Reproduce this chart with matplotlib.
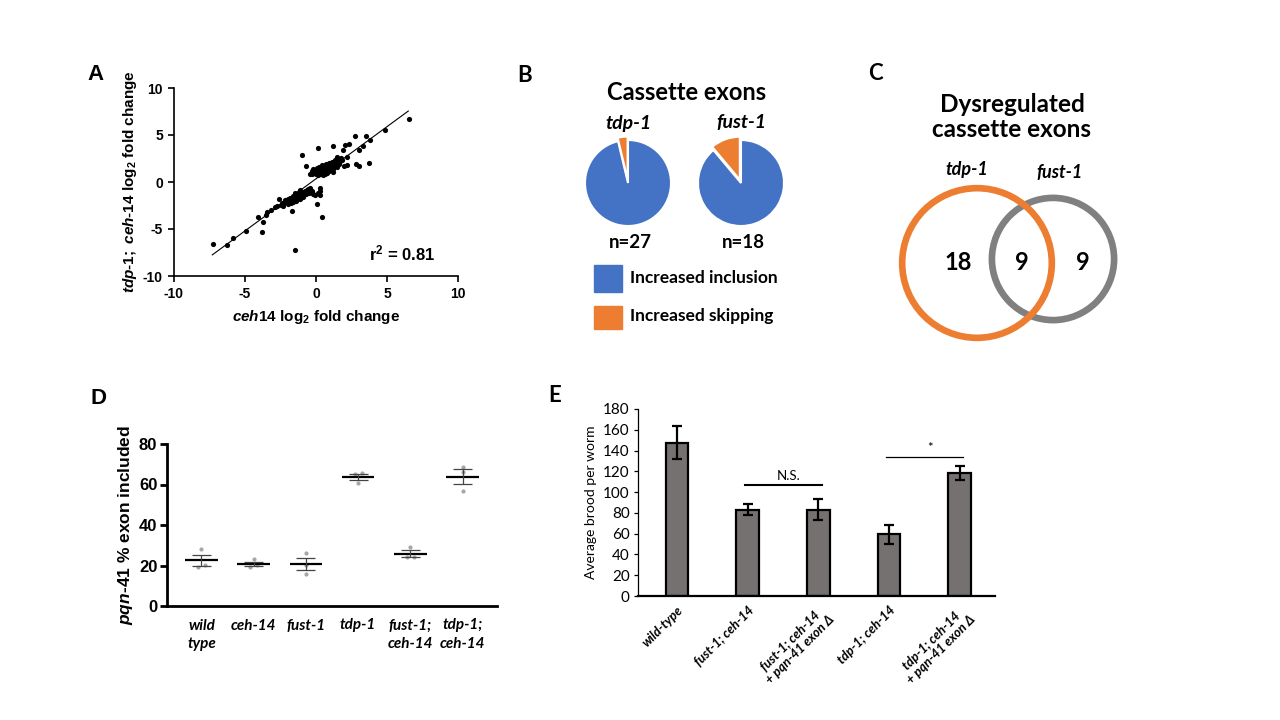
import numpy as np
import matplotlib
matplotlib.use("Agg")
import matplotlib.pyplot as plt
from matplotlib.patches import Circle, Rectangle

plt.rcParams['font.family'] = ['Liberation Sans', 'DejaVu Sans']
plt.rcParams['font.weight'] = 'bold'
plt.rcParams['axes.labelweight'] = 'bold'
plt.rcParams['axes.unicode_minus'] = False
plt.rcParams['mathtext.fontset'] = 'custom'
plt.rcParams['mathtext.rm'] = 'Liberation Sans:bold'
plt.rcParams['mathtext.it'] = 'Liberation Sans:italic:bold'
plt.rcParams['mathtext.bf'] = 'Liberation Sans:bold'

CAL = ['Lato', 'DejaVu Sans']
BLUE = '#4472C4'
ORANGE = '#ED7D31'

# ---- panel A: log2 fold change, ceh14 vs tdp-1; ceh-14
scatter_x = [
    -7.27, -6.28, -5.81, -4.92, -4.05, -3.71, -3.83, -3.52, -3.43, -3.19,
    -2.9, -2.77, -2.6, -2.5, -2.4, -2.3, -2.3, -2.2, -2.1, -2.0,
    -1.95, -1.9, -1.8, -1.75, -1.7, -1.71, -1.6, -1.6, -1.5, -1.5,
    -1.48, -1.48, -1.45, -1.4, -1.3, -1.25, -1.2, -1.15, -1.13, -1.1,
    -1.0, -1.0, -0.9, -0.85, -0.78, -0.7, -0.6, -0.54, -0.5, -0.42,
    -0.3, -0.2, -0.1, 0.05, 0.16, 0.28, 0.3, 0.3, 0.4,
    -0.96, -0.73, -0.4, -0.3, -0.25, -0.2, -0.15, -0.1, 0.0, 0.0,
    0.05, 0.1, 0.1, 0.15, 0.15, 0.2, 0.2, 0.25, 0.3, 0.3,
    0.35, 0.4, 0.4, 0.45, 0.5, 0.5, 0.5, 0.55, 0.6, 0.6,
    0.65, 0.7, 0.7, 0.75, 0.8, 0.8, 0.85, 0.9, 0.9, 0.95,
    1.0, 1.0, 1.05, 1.1, 1.1, 1.15, 1.2, 1.2, 1.25, 1.3,
    1.35, 1.4, 1.45, 1.5, 1.55, 1.6, 1.7, 1.75, 1.85,
    0.16, 1.22, 1.34, 1.46, 1.93, 1.98, 2.05, 2.16, 2.16, 2.35,
    2.75, 2.8, 3.0, 3.04, 3.3, 3.5, 3.7, 3.8, 4.87, 6.52,
]
scatter_y = [
    -6.63, -6.7, -5.99, -5.17, -3.68, -4.28, -5.35, -3.5, -3.15, -2.98,
    -2.7, -2.55, -1.85, -2.4, -2.2, -2.35, -2.6, -1.9, -2.1, -1.8,
    -2.3, -2.0, -1.7, -2.2, -1.9, -3.09, -1.5, -2.1, -1.2, -1.8,
    -1.74, -7.2, -1.6, -2.0, -1.4, -1.6, -1.1, -1.8, -0.85, -1.3,
    -1.5, -1.2, -1.6, -1.1, -1.0, -1.3, -0.9, -0.78, -1.2, -0.67,
    -1.0, -1.3, -1.4, -2.3, -1.2, -0.67, -1.4, -1.0, -3.69,
    2.87, 1.73, 0.9, 1.2, 0.8, 1.4, 1.0, 1.3, 1.1, 0.8,
    1.5, 1.2, 0.9, 1.4, 0.7, 1.0, 1.6, 1.3, 1.1, 0.8,
    1.5, 1.2, 1.8, 1.0, 1.4, 1.1, 0.7, 1.7, 1.3, 0.9,
    1.5, 1.2, 1.9, 1.6, 1.4, 1.0, 1.8, 1.5, 1.2, 2.0,
    1.6, 1.3, 1.9, 1.5, 2.1, 1.7, 1.4, 1.1, 2.0, 1.7,
    2.3, 1.9, 1.6, 2.1, 2.4, 1.9, 2.2, 2.6, 2.3,
    3.66, 3.84, 2.14, 2.67, 3.38, 1.68, 3.98, 2.67, 1.8, 4.09,
    4.87, 1.96, 1.68, 3.45, 3.8, 4.87, 2.04, 4.44, 5.5, 6.74,
]
fit_x = [-7.3, 6.5]
fit_y = [-7.75, 7.55]
r_squared = 0.81

# ---- panel B: cassette exon direction
pie_groups = ['tdp-1', 'fust-1']
pie_inclusion = [26, 16]
pie_skipping = [1, 2]
pie_n = [27, 18]

# ---- panel C: overlap of dysregulated cassette exons
venn_sets = ['tdp-1', 'fust-1']
venn_only_tdp = 18
venn_both = 9
venn_only_fust = 9

# ---- panel D: pqn-41 % exon included, replicates
d_labels = ['wild\ntype', 'ceh-14', 'fust-1', 'tdp-1', 'fust-1;\nceh-14', 'tdp-1;\nceh-14']
d_reps = [
    [28.0, 19.1, 20.4],
    [23.0, 19.1, 20.2],
    [26.0, 20.4, 15.8],
    [65.5, 65.1, 60.6],
    [29.3, 24.0, 24.0],
    [68.5, 66.3, 56.8],
]

# ---- panel E: brood size
e_labels = ['wild-type', 'fust-1; ceh-14', 'fust-1; ceh-14\n+ pqn-41 exon \u0394',
            'tdp-1; ceh-14', 'tdp-1; ceh-14\n+ pqn-41 exon \u0394']
e_means = [147.6, 83.1, 83.1, 59.4, 118.4]
e_err = [16.2, 5.6, 10.3, 9.2, 6.4]
sig_pairs = [(1, 2), (3, 4)]
sig_labels = ['N.S.', '*']
sig_heights = [107, 134]

W, H = 1280, 720


def px_rect(x0, y0, x1, y1):
    return [x0 / W, 1 - y1 / H, (x1 - x0) / W, (y1 - y0) / H]


fig = plt.figure(figsize=(12.8, 7.2), dpi=100)

# overlay in pixel coordinates for letters, titles, legend and venn
ov = fig.add_axes([0, 0, 1, 1])
ov.set_xlim(0, W)
ov.set_ylim(H, 0)
ov.set_axis_off()

for letter, (lx, ly), fam in [('A', (95, 75), 'Liberation Sans'), ('B', (525, 75), CAL),
                              ('C', (875, 73), CAL), ('D', (98, 398), 'Liberation Sans'),
                              ('E', (555, 395), CAL)]:
    ov.text(lx, ly, letter, fontsize=16, fontweight='bold', family=fam, ha='center', va='center')

# ---- A
axA = fig.add_axes(px_rect(174, 88, 458, 276))
axA.scatter(scatter_x, scatter_y, s=14, color='black', linewidths=0, zorder=3)
axA.plot(fit_x, fit_y, color='black', lw=0.8, zorder=2)
axA.set_xlim(-10, 10)
axA.set_ylim(-10, 10)
axA.set_xticks([-10, -5, 0, 5, 10])
axA.set_yticks([-10, -5, 0, 5, 10])
for s in ['top', 'right']:
    axA.spines[s].set_visible(False)
for s in ['left', 'bottom']:
    axA.spines[s].set_linewidth(1.2)
axA.tick_params(direction='out', length=4, width=1.2, labelsize=10, pad=4)
for t in axA.get_xticklabels() + axA.get_yticklabels():
    t.set_fontweight('bold')
axA.set_xlabel(r'$\mathit{ceh14}$ log$_2$ fold change', fontsize=11, fontweight='bold', labelpad=5)
axA.set_ylabel(r'$\mathit{tdp}$-$\mathit{1;\ ceh}$-$\mathit{14}$ log$_2$ fold change',
               fontsize=11, fontweight='bold', labelpad=3)
axA.text(6.06, -7.55, r'r$^2$ = %.2f' % r_squared, ha='center', va='center', fontsize=12,
         fontweight='bold')

# ---- B
ov.text(687, 93, 'Cassette exons', family=CAL, fontsize=17, fontweight='bold', ha='center', va='center')
for i, cx in enumerate([628, 741]):
    cy, r = 183, 43
    axp = fig.add_axes(px_rect(cx - 50, cy - 50, cx + 50, cy + 50))
    axp.pie([pie_inclusion[i], pie_skipping[i]], colors=[BLUE, ORANGE], startangle=90,
            counterclock=False, explode=[0, 0.08],
            wedgeprops=dict(edgecolor='white', linewidth=1.5))
    axp.set_xlim(-50 / r, 50 / r)
    axp.set_ylim(-50 / r, 50 / r)
    ov.text(cx, 123, pie_groups[i], family=CAL, fontsize=14, fontweight='bold',
            style='italic', ha='center', va='center')
    ov.text(cx + 2, 242, 'n=%d' % pie_n[i], family=CAL, fontsize=13.5, fontweight='bold',
            ha='center', va='center')

ov.add_patch(Rectangle((594, 265), 28, 27, color=BLUE))
ov.add_patch(Rectangle((594, 306), 28, 23, color=ORANGE))
ov.text(630, 278, 'Increased inclusion', family=CAL, fontsize=12.5, fontweight='bold', va='center')
ov.text(630, 316, 'Increased skipping', family=CAL, fontsize=12.5, fontweight='bold', va='center')

# ---- C
ov.text(1012, 117, 'Dysregulated\ncassette exons', family=CAL, fontsize=17.5, fontweight='bold',
        ha='center', va='center', linespacing=1.1)
k = 14.4
r_tdp = k * np.sqrt(venn_only_tdp + venn_both)
r_fust = k * np.sqrt(venn_only_fust + venn_both)
ov.add_patch(Circle((1053, 259), r_fust, fill=False, edgecolor='#808080', lw=4.8))
ov.add_patch(Circle((977, 263), r_tdp, fill=False, edgecolor=ORANGE, lw=4.8))
ov.text(967, 170, venn_sets[0], family=CAL, fontsize=13, fontweight='bold', style='italic',
        ha='center', va='center')
ov.text(1060, 173, venn_sets[1], family=CAL, fontsize=13, fontweight='bold', style='italic',
        ha='center', va='center')
for (tx, n) in [(958, venn_only_tdp), (1022, venn_both), (1083, venn_only_fust)]:
    ov.text(tx, 262, str(n), family=CAL, fontsize=17, fontweight='bold', ha='center', va='center')

# ---- D
axD = fig.add_axes(px_rect(167, 444, 497, 606))
for i, reps in enumerate(d_reps):
    reps = np.array(reps)
    mean = reps.mean()
    sem = reps.std(ddof=1) / np.sqrt(len(reps))
    # spread replicate dots that sit close together
    offs = np.zeros(len(reps))
    order = np.argsort(reps)
    for a, b in zip(order[:-1], order[1:]):
        if abs(reps[b] - reps[a]) < 2.0 and offs[a] == 0 and offs[b] == 0:
            offs[a], offs[b] = -0.065, 0.065
    axD.scatter(i + offs, reps, s=9, color='#A6A6A6', linewidths=0, zorder=2)
    axD.hlines(mean, i - 0.31, i + 0.31, color='black', lw=1.6, zorder=3)
    axD.vlines(i, mean - sem, mean + sem, color='#444444', lw=0.9, zorder=3)
    axD.hlines([mean - sem, mean + sem], i - 0.18, i + 0.18, color='#444444', lw=0.9, zorder=3)
axD.set_xlim(-0.66, 5.66)
axD.set_ylim(0, 80)
axD.set_yticks([0, 20, 40, 60, 80])
axD.set_xticks(range(len(d_labels)))
axD.set_xticklabels(d_labels, family=CAL, fontsize=11, fontweight='bold', style='italic',
                    linespacing=1.45)
for s in ['top', 'right']:
    axD.spines[s].set_visible(False)
for s in ['left', 'bottom']:
    axD.spines[s].set_linewidth(2)
axD.tick_params(axis='y', direction='out', length=5, width=2, labelsize=12, pad=2)
for t in axD.get_yticklabels():
    t.set_fontweight('bold')
axD.tick_params(axis='x', length=0, pad=9)
axD.set_ylabel(r'$\mathit{pqn}$-$\mathit{41}$ % exon included', fontsize=12.5, fontweight='bold',
               labelpad=3)

# ---- E
axE = fig.add_axes(px_rect(638, 409, 995, 596))
xe = np.arange(len(e_means))
axE.bar(xe, e_means, width=0.32, color='#767171', edgecolor='black', linewidth=1.6, zorder=2)
axE.errorbar(xe, e_means, yerr=e_err, fmt='none', ecolor='black', elinewidth=1.6,
             capsize=3.5, capthick=1.6, zorder=3)
for (a, b), lab, h, lw in zip(sig_pairs, sig_labels, sig_heights, [1.5, 0.9]):
    axE.plot([a - 0.035, b + 0.05], [h, h], color='black', lw=lw)
    axE.text((a + b) / 2 + 0.08, h + 3, lab, family=CAL, fontsize=9.5, fontweight='normal',
             ha='center', va='bottom')
axE.set_xlim(-0.55, 4.5)
axE.set_ylim(0, 180)
axE.set_yticks(range(0, 181, 20))
axE.set_xticks(xe)
axE.set_xticklabels(e_labels, family=CAL, fontsize=9.3, fontweight='bold', style='italic',
                    rotation=45, ha='right', va='top', rotation_mode='anchor',
                    multialignment='center', linespacing=1.1)
for s in ['top', 'right']:
    axE.spines[s].set_visible(False)
axE.spines['left'].set_linewidth(0.9)
axE.spines['bottom'].set_linewidth(1.6)
axE.tick_params(axis='y', direction='out', length=3, width=0.9, labelsize=11, pad=3)
axE.tick_params(axis='x', length=0, pad=6)
for t in axE.get_yticklabels():
    t.set_family(CAL)
    t.set_fontweight('normal')
axE.set_ylabel('Average brood per worm', family=CAL, fontsize=10, fontweight='normal', labelpad=4)

fig.savefig('out.png', dpi=100)
